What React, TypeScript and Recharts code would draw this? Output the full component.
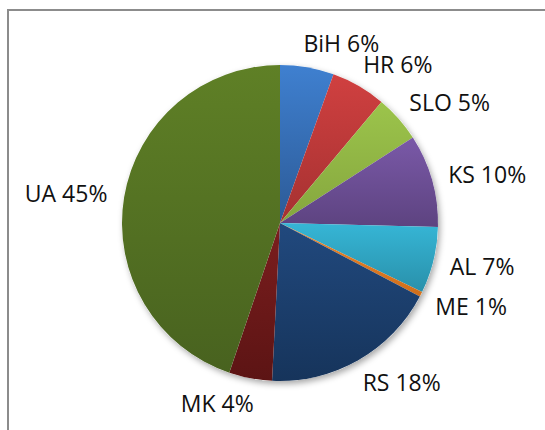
import { PieChart, Pie, Cell } from "recharts";

const countries = ["BiH", "HR", "SLO", "KS", "AL", "ME", "RS", "MK", "UA"];
const shares = [5.5, 5.6, 4.8, 9.5, 6.8, 0.5, 18.1, 4.4, 44.8];
const percentLabels = ["6%", "6%", "5%", "10%", "7%", "1%", "18%", "4%", "45%"];

const topColors = ["#3f80d0", "#d04040", "#9cc44b", "#7a59a8", "#36b6d6", "#e8832a", "#21497e", "#7b1e1e", "#5f8026"];
const bottomColors = ["#2c5a96", "#a53131", "#85a63e", "#5d4380", "#2990aa", "#d06f1c", "#16345b", "#5c1414", "#48621f"];

const data = countries.map((name, i) => ({
  name,
  value: shares[i],
  label: `${name} ${percentLabels[i]}`,
}));

const RADIAN = Math.PI / 180;

function renderLabel(props: any) {
  const { cx, cy, midAngle, outerRadius, index } = props;
  const r = outerRadius + 25;
  const sin = Math.cos(-midAngle * RADIAN);
  const cos = Math.sin(-midAngle * RADIAN);
  const right = sin >= 0;
  const x = cx + r * sin + (right ? -8 : 8);
  const y = cy + r * cos;
  return (
    <text
      x={x}
      y={y}
      textAnchor={right ? "start" : "end"}
      dominantBaseline="central"
      fill="#111"
      style={{ fontFamily: "'Open Sans', sans-serif", fontSize: 23 }}
    >
      {data[index].label}
    </text>
  );
}

export default function App() {
  return (
    <div
      style={{
        position: "absolute",
        left: 0,
        top: 0,
        width: 545,
        height: 430,
        overflow: "hidden",
        background: "#fff",
      }}
    >
      <div
        style={{
          position: "absolute",
          left: 7,
          top: 9,
          width: 600,
          height: 500,
          borderTop: "2px solid #8c8c8c",
          borderLeft: "2px solid #8c8c8c",
        }}
      />
      <div style={{ position: "absolute", left: 0, top: 0 }}>
        <PieChart width={545} height={430} margin={{ top: 0, right: 0, bottom: 0, left: 0 }}>
          <defs>
            <filter id="pieShadow" x="-20%" y="-20%" width="140%" height="140%">
              <feDropShadow dx="2" dy="3" stdDeviation="3" floodColor="#000" floodOpacity="0.35" />
            </filter>
            {countries.map((c, i) => (
              <linearGradient key={c} id={`grad${i}`} x1="0" y1="0" x2="0" y2="1">
                <stop offset="0%" stopColor={topColors[i]} />
                <stop offset="100%" stopColor={bottomColors[i]} />
              </linearGradient>
            ))}
          </defs>
          <Pie
            data={[{ name: "bg", value: 1 }]}
            dataKey="value"
            cx={280}
            cy={223}
            outerRadius={158}
            startAngle={90}
            endAngle={-270}
            stroke="none"
            isAnimationActive={false}
            label={false}
            labelLine={false}
          >
            <Cell fill="#fff" filter="url(#pieShadow)" />
          </Pie>
          <Pie
            data={data}
            dataKey="value"
            nameKey="name"
            cx={280}
            cy={223}
            outerRadius={158}
            startAngle={90}
            endAngle={-270}
            stroke="none"
            isAnimationActive={false}
            labelLine={false}
            label={renderLabel}
          >
            {data.map((d, i) => (
              <Cell key={d.name} fill={`url(#grad${i})`} />
            ))}
          </Pie>
        </PieChart>
      </div>
    </div>
  );
}
